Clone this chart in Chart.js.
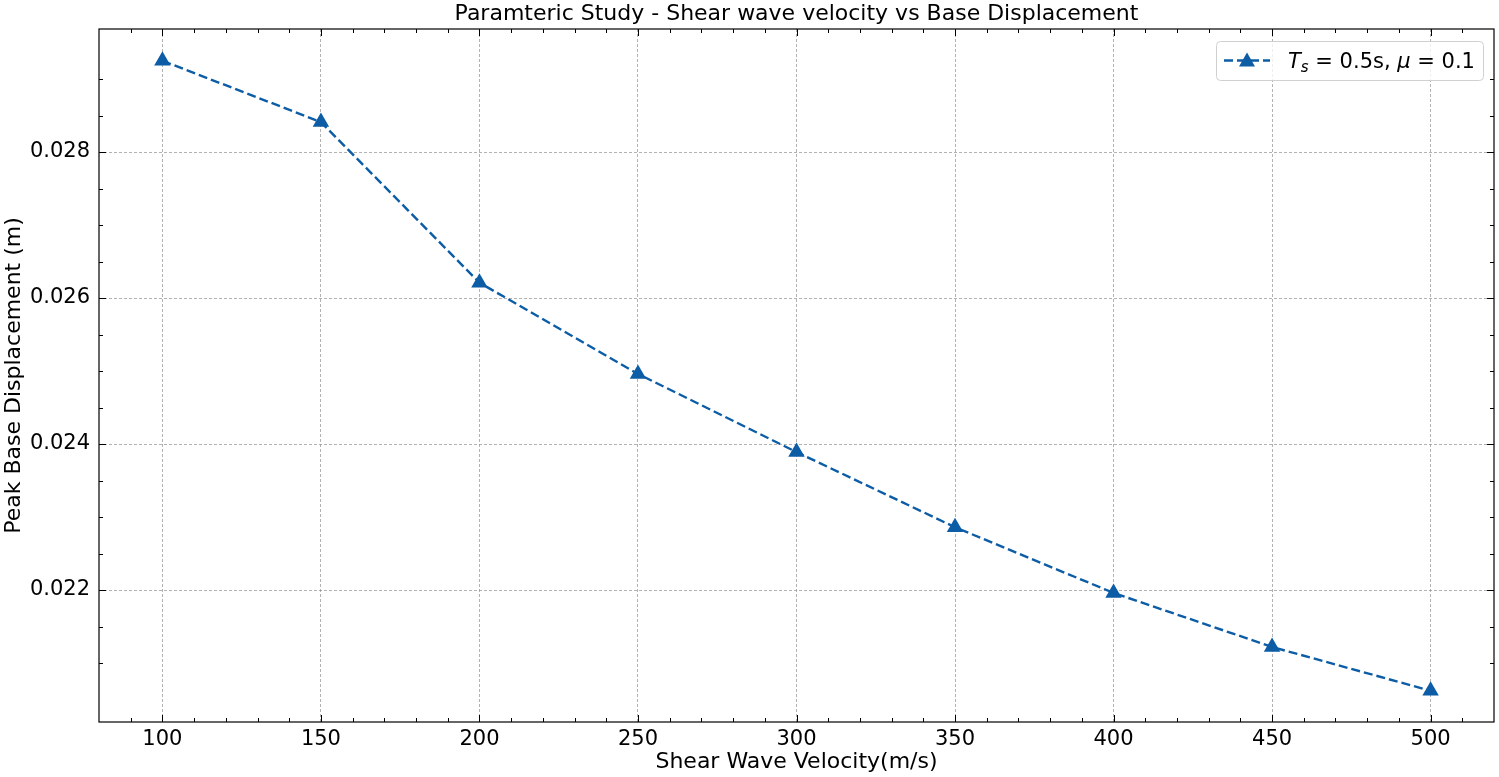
<!DOCTYPE html>
<html>
<head>
<meta charset="utf-8">
<script src="https://cdn.jsdelivr.net/npm/chart.js@4"></script>
<style>
  html, body { margin: 0; padding: 0; background: #fff; overflow: hidden; }
  #wrap { width: 1499px; height: 777px; }
</style>
</head>
<body>
<div id="wrap"><canvas id="chart"></canvas></div>
<script>
const velocities = [100, 150, 200, 250, 300, 350, 400, 450, 500];
const displacement = [0.02925, 0.02841, 0.02621, 0.02496, 0.02389, 0.02286, 0.02196, 0.02122, 0.02062];
const xLabels = [100, 150, 200, 250, 300, 350, 400, 450, 500];
const yLabels = [0.022, 0.024, 0.026, 0.028];

const BLUE = '#0C5DA5';
const FONT = '"DejaVu Sans", sans-serif';

const isMajorX = v => xLabels.includes(Math.round(v)) && Math.abs(v - Math.round(v)) < 1e-6;
const isMajorY = v => yLabels.some(t => Math.abs(t - v) < 1e-9);

// matplotlib-like inward ticks on all four sides + frame + legend
const framePlugin = {
  id: 'frame',
  afterDraw(chart) {
    const { ctx, chartArea: a, scales: { x, y } } = chart;
    ctx.save();
    ctx.strokeStyle = '#000';
    ctx.lineWidth = 1;
    x.ticks.forEach(t => {
      if (t.value <= x.min || t.value >= x.max) return;
      const px = Math.round(x.getPixelForValue(t.value)) + 0.5;
      const len = isMajorX(t.value) ? 7 : 4;
      ctx.beginPath();
      ctx.moveTo(px, a.bottom); ctx.lineTo(px, a.bottom - len);
      ctx.moveTo(px, a.top); ctx.lineTo(px, a.top + len);
      ctx.stroke();
    });
    y.ticks.forEach(t => {
      if (t.value <= y.min || t.value >= y.max) return;
      const py = Math.round(y.getPixelForValue(t.value)) + 0.5;
      const len = isMajorY(t.value) ? 7 : 4;
      ctx.beginPath();
      ctx.moveTo(a.left, py); ctx.lineTo(a.left + len, py);
      ctx.moveTo(a.right, py); ctx.lineTo(a.right - len, py);
      ctx.stroke();
    });
    ctx.lineWidth = 1.2;
    ctx.strokeRect(a.left, a.top, a.right - a.left, a.bottom - a.top);

    // title, centred over the plot area
    ctx.fillStyle = '#000';
    ctx.font = '22px ' + FONT;
    ctx.textAlign = 'center';
    ctx.textBaseline = 'middle';
    ctx.fillText(chart.options.plugins.title.text, (a.left + a.right) / 2, 14);

    // legend box
    const bx = a.right - 278, by = a.top + 12, bw = 267, bh = 39;
    ctx.fillStyle = 'rgba(255,255,255,0.8)';
    ctx.strokeStyle = '#d0d0d0';
    ctx.lineWidth = 1;
    ctx.beginPath();
    ctx.roundRect(bx + 0.5, by + 0.5, bw, bh, 4);
    ctx.fill(); ctx.stroke();

    const cy = by + bh / 2;
    ctx.strokeStyle = BLUE;
    ctx.lineWidth = 2.4;
    ctx.setLineDash([9, 4]);
    ctx.beginPath();
    ctx.moveTo(bx + 8, cy); ctx.lineTo(bx + 54, cy);
    ctx.stroke();
    ctx.setLineDash([]);
    ctx.fillStyle = BLUE;
    ctx.beginPath();
    ctx.moveTo(bx + 31, cy - 8);
    ctx.lineTo(bx + 39, cy + 6);
    ctx.lineTo(bx + 23, cy + 6);
    ctx.closePath();
    ctx.fill();

    // label text: T_s = 0.5s, μ = 0.1
    ctx.fillStyle = '#000';
    ctx.textBaseline = 'alphabetic';
    ctx.textAlign = 'left';
    const base = cy + 7.5;
    let tx = bx + 72;
    const piece = (txt, font, dy) => {
      ctx.font = font;
      ctx.fillText(txt, tx, base + (dy || 0));
      tx += ctx.measureText(txt).width;
    };
    piece('T', 'italic 21px ' + FONT);
    piece('s', 'italic 15px ' + FONT, 4);
    piece(' = 0.5s, ', '21px ' + FONT);
    piece('μ', 'italic 21px ' + FONT);
    piece(' = 0.1', '21px ' + FONT);
    ctx.restore();
  }
};

new Chart(document.getElementById('chart'), {
  type: 'line',
  data: {
    datasets: [{
      label: 'T_s = 0.5s, μ = 0.1',
      data: velocities.map((v, i) => ({ x: v, y: displacement[i] })),
      borderColor: BLUE,
      backgroundColor: BLUE,
      borderWidth: 2.4,
      borderDash: [9, 4],
      pointStyle: 'triangle',
      pointRadius: 9.5,
      pointHoverRadius: 9.5,
      pointBorderWidth: 0,
      tension: 0,
      fill: false
    }]
  },
  plugins: [framePlugin],
  options: {
    responsive: true,
    maintainAspectRatio: false,
    animation: false,
    layout: { autoPadding: false, padding: { left: 0, right: 5, top: 29, bottom: 0 } },
    plugins: {
      legend: { display: false },
      tooltip: { enabled: false },
      title: {
        display: false,
        text: 'Paramteric Study - Shear wave velocity vs Base Displacement'
      }
    },
    scales: {
      x: {
        type: 'linear',
        min: 80, max: 520,
        afterFit(s) { s.height = 55; s.paddingLeft = 0; s.paddingRight = 0; },
        ticks: {
          stepSize: 10,
          autoSkip: false,
          maxRotation: 0,
          padding: 5,
          color: '#000',
          font: { family: FONT, size: 21 },
          callback: v => isMajorX(v) ? String(Math.round(v)) : ''
        },
        grid: {
          drawTicks: false,
          lineWidth: 0.7,
          color: ctx => (ctx.tick && isMajorX(ctx.tick.value) ? '#909090' : 'rgba(0,0,0,0)')
        },
        border: { display: false, dash: [3, 2] },
        title: {
          display: true,
          text: 'Shear Wave Velocity(m/s)',
          color: '#000',
          font: { family: FONT, size: 22, lineHeight: 1.2 },
          padding: { top: 0, bottom: 2 }
        }
      },
      y: {
        type: 'linear',
        min: 0.020192, max: 0.029685,
        afterFit(s) { s.width = 99; s.paddingTop = 0; s.paddingBottom = 0; },
        ticks: {
          stepSize: 0.0005,
          autoSkip: false,
          padding: 9,
          color: '#000',
          font: { family: FONT, size: 21 },
          callback: v => isMajorY(v) ? v.toFixed(3) : ''
        },
        grid: {
          drawTicks: false,
          lineWidth: 0.7,
          color: ctx => (ctx.tick && isMajorY(ctx.tick.value) ? '#909090' : 'rgba(0,0,0,0)')
        },
        border: { display: false, dash: [3, 2] },
        title: {
          display: true,
          text: 'Peak Base Displacement (m)',
          color: '#000',
          font: { family: FONT, size: 22, lineHeight: 1.2 },
          padding: { top: 1, bottom: 0 }
        }
      }
    }
  }
});
</script>
</body>
</html>
